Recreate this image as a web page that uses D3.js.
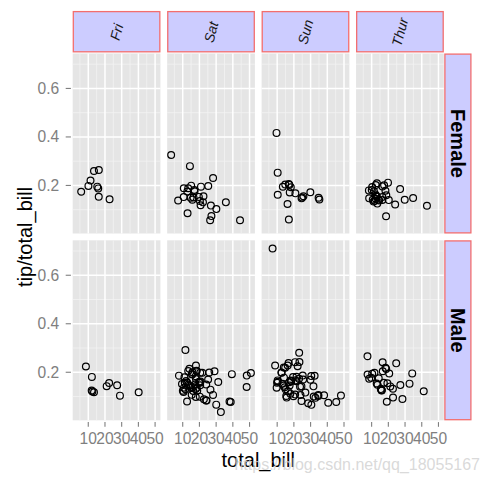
<!DOCTYPE html>
<html><head><meta charset="utf-8">
<script src="https://cdn.jsdelivr.net/npm/d3@7"></script>
<style>body{margin:0;background:#fff}svg{display:block}</style>
</head><body><svg id="c" width="491" height="484"></svg>
<script>
const days = ["Fri","Sat","Sun","Thur"];
const sexes = ["Female","Male"];
const xTicks = [10,20,30,40,50];
const yTicks = [0.2,0.4,0.6];
const xMinor = [5,15,25,35,45];
const yMinor = [0.1,0.3,0.5,0.7];

const totalBill = [
16.99,10.34,21.01,23.68,24.59,25.29,8.77,26.88,15.04,14.78,
10.27,35.26,15.42,18.43,14.83,21.58,10.33,16.29,16.97,20.65,
17.92,20.29,15.77,39.42,19.82,17.81,13.37,12.69,21.70,19.65,
9.55,18.35,15.06,20.69,17.78,24.06,16.31,16.93,18.69,31.27,
16.04,17.46,13.94,9.68,30.40,18.29,22.23,32.40,28.55,18.04,
12.54,10.29,34.81,9.94,25.56,19.49,38.01,26.41,11.24,48.27,
20.29,13.81,11.02,18.29,17.59,20.08,16.45,3.07,20.23,15.01,
12.02,17.07,26.86,25.28,14.73,10.51,17.92,27.20,22.76,17.29,
19.44,16.66,10.07,32.68,15.98,34.83,13.03,18.28,24.71,21.16,
28.97,22.49,5.75,16.32,22.75,40.17,27.28,12.03,21.01,12.46,
11.35,15.38,44.30,22.42,20.92,15.36,20.49,25.21,18.24,14.31,
14.00,7.25,38.07,23.95,25.71,17.31,29.93,10.65,12.43,24.08,
11.69,13.42,14.26,15.95,12.48,29.80,8.52,14.52,11.38,22.82,
19.08,20.27,11.17,12.26,18.26,8.51,10.33,14.15,16.00,13.16,
17.47,34.30,41.19,27.05,16.43,8.35,18.64,11.87,9.78,7.51,
14.07,13.13,17.26,24.55,19.77,29.85,48.17,25.00,13.39,16.49,
21.50,12.66,16.21,13.81,17.51,24.52,20.76,31.71,10.59,10.63,
50.81,15.81,7.25,31.85,16.82,32.90,17.89,14.48,9.60,34.63,
34.65,23.33,45.35,23.17,40.55,20.69,20.90,30.46,18.15,23.10,
15.69,19.81,28.44,15.48,16.58,7.56,10.34,43.11,13.00,13.51,
18.71,12.74,13.00,16.40,20.53,16.47,26.59,38.73,24.27,12.76,
30.06,25.89,48.33,13.27,28.17,12.90,28.15,11.59,7.74,30.14,
12.16,13.42,8.58,15.98,13.42,16.27,10.09,20.45,13.28,22.12,
24.01,15.69,11.61,10.77,15.53,10.07,12.60,32.83,35.83,29.03,
27.18,22.67,17.82,18.78];

const tip = [
1.01,1.66,3.50,3.31,3.61,4.71,2.00,3.12,1.96,3.23,
1.71,5.00,1.57,3.00,3.02,3.92,1.67,3.71,3.50,3.35,
4.08,2.75,2.23,7.58,3.18,2.34,2.00,2.00,4.30,3.00,
1.45,2.50,3.00,2.45,3.27,3.60,2.00,3.07,2.31,5.00,
2.24,2.54,3.06,1.32,5.60,3.00,5.00,6.00,2.05,3.00,
2.50,2.60,5.20,1.56,4.34,3.51,3.00,1.50,1.76,6.73,
3.21,2.00,1.98,3.76,2.64,3.15,2.47,1.00,2.01,2.09,
1.97,3.00,3.14,5.00,2.20,1.25,3.08,4.00,3.00,2.71,
3.00,3.40,1.83,5.00,2.03,5.17,2.00,4.00,5.85,3.00,
3.00,3.50,1.00,4.30,3.25,4.73,4.00,1.50,3.00,1.50,
2.50,3.00,2.50,3.48,4.08,1.64,4.06,4.29,3.76,4.00,
3.00,1.00,4.00,2.55,4.00,3.50,5.07,1.50,1.80,2.92,
2.31,1.68,2.50,2.00,2.52,4.20,1.48,2.00,2.00,2.18,
1.50,2.83,1.50,2.00,3.25,1.25,2.00,2.00,2.00,2.75,
3.50,6.70,5.00,5.00,2.30,1.50,1.36,1.63,1.73,2.00,
2.50,2.00,2.74,2.00,2.00,5.14,5.00,3.75,2.61,2.00,
3.50,2.50,2.00,2.00,3.00,3.48,2.24,4.50,1.61,2.00,
10.00,3.16,5.15,3.18,4.00,3.11,2.00,2.00,4.00,3.55,
3.68,5.65,3.50,6.50,3.00,5.00,3.50,2.00,3.50,4.00,
1.50,4.19,2.56,2.02,4.00,1.44,2.00,5.00,2.00,2.00,
4.00,2.01,2.00,2.50,4.00,3.23,3.41,3.00,2.03,2.23,
2.00,5.16,9.00,2.50,6.50,1.10,3.00,1.50,1.44,3.09,
2.20,3.48,1.92,3.00,1.58,2.50,2.00,3.00,2.72,2.88,
2.00,3.00,3.39,1.47,3.00,1.25,1.00,1.17,4.67,5.92,
2.00,2.00,1.75,3.00];

const sex = [
"F","M","M","M","F","M","M","M","M","M",
"M","F","M","M","F","M","F","M","F","M",
"M","F","F","M","M","M","M","M","M","F",
"M","M","F","F","M","M","M","F","M","M",
"M","M","M","M","M","M","M","M","M","M",
"M","F","F","M","M","M","M","F","M","M",
"M","M","M","M","M","M","F","F","M","M",
"M","F","F","F","F","M","M","M","M","M",
"M","M","F","M","M","F","M","M","M","M",
"M","M","F","F","F","M","M","M","M","M",
"F","F","F","F","F","M","M","M","M","F",
"M","F","M","M","F","F","M","F","F","F",
"M","F","M","M","F","F","M","F","F","M",
"M","F","F","F","F","F","F","F","M","F",
"F","M","M","F","F","F","F","F","M","M",
"M","M","M","M","M","F","M","F","F","M",
"M","M","F","M","F","M","M","M","F","F",
"M","M","M","M","M","M","M","M","F","M",
"M","M","M","M","M","M","F","M","F","M",
"M","F","M","M","M","M","M","F","F","M",
"M","F","F","F","M","F","M","M","M","F",
"M","M","M","F","F","F","M","M","M","F",
"M","F","M","F","M","F","F","M","M","F",
"M","M","M","M","M","M","M","M","F","M",
"F","M","M","F"];

const day = [
"Sun","Sun","Sun","Sun","Sun","Sun","Sun","Sun","Sun","Sun",
"Sun","Sun","Sun","Sun","Sun","Sun","Sun","Sun","Sun","Sat",
"Sat","Sat","Sat","Sat","Sat","Sat","Sat","Sat","Sat","Sat",
"Sat","Sat","Sat","Sat","Sat","Sat","Sat","Sat","Sat","Sat",
"Sat","Sun","Sun","Sun","Sun","Sun","Sun","Sun","Sun","Sun",
"Sun","Sun","Sun","Sun","Sun","Sun","Sat","Sat","Sat","Sat",
"Sat","Sat","Sat","Sat","Sat","Sat","Sat","Sat","Sat","Sat",
"Sat","Sat","Sat","Sat","Sat","Sat","Sat","Thur","Thur","Thur",
"Thur","Thur","Thur","Thur","Thur","Thur","Thur","Thur","Thur","Thur",
"Fri","Fri","Fri","Fri","Fri","Fri","Fri","Fri","Fri","Fri",
"Fri","Fri","Sat","Sat","Sat","Sat","Sat","Sat","Sat","Sat",
"Sat","Sat","Sun","Sun","Sun","Sun","Sun","Thur","Thur","Thur",
"Thur","Thur","Thur","Thur","Thur","Thur","Thur","Thur","Thur","Thur",
"Thur","Thur","Thur","Thur","Thur","Thur","Thur","Thur","Thur","Thur",
"Thur","Thur","Thur","Thur","Thur","Thur","Thur","Thur","Thur","Thur",
"Sun","Sun","Sun","Sun","Sun","Sun","Sun","Sun","Sun","Sun",
"Sun","Sun","Sun","Sun","Sun","Sun","Sun","Sun","Sat","Sat",
"Sat","Sat","Sun","Sun","Sun","Sun","Sun","Sun","Sun","Sun",
"Sun","Sun","Sun","Sun","Sun","Sun","Sun","Sun","Sun","Sun",
"Sun","Thur","Thur","Thur","Thur","Thur","Thur","Thur","Thur","Thur",
"Thur","Thur","Thur","Thur","Thur","Thur","Sat","Sat","Sat","Sat",
"Sat","Sat","Sat","Sat","Sat","Sat","Sat","Sat","Sat","Sat",
"Fri","Fri","Fri","Fri","Fri","Fri","Fri","Sat","Sat","Sat",
"Sat","Sat","Sat","Sat","Sat","Sat","Sat","Sat","Sat","Sat",
"Sat","Sat","Sat","Thur"];

const rows = totalBill.map((b,i)=>({bill:b, ratio:tip[i]/b, sex: sex[i]==="F"?"Female":"Male", day:day[i]}));

function expand(ext, f){const d=ext[1]-ext[0];return [ext[0]-d*f, ext[1]+d*f];}

const svg = d3.select("#c");
const font = "'Liberation Sans', Arial, Helvetica, sans-serif";
const L = 72.7, R = 443.8, T = 53.5, B = 420.3;
const colGap = 6.6, rowGap = 6.7;

const colBand = d3.scaleBand().domain(days).range([L, R]).paddingInner(colGap/((R-L)/4)).paddingOuter(0);
const rowBand = d3.scaleBand().domain(sexes).range([T, B]).paddingInner(rowGap/((B-T)/2)).paddingOuter(0);
const pw = colBand.bandwidth(), ph = rowBand.bandwidth();

const x = d3.scaleLinear().domain(expand(d3.extent(rows,d=>d.bill),0.05)).range([0,pw]);
const y = d3.scaleLinear().domain(expand(d3.extent(rows,d=>d.ratio),0.05)).range([ph,0]);

// strips top
days.forEach(dy=>{
  const g = svg.append("g").attr("transform",`translate(${colBand(dy)},0)`);
  g.append("rect").attr("x",0.6).attr("y",11.6).attr("width",pw-1.2).attr("height",41.4-1.2)
    .attr("fill","#CCCCFF").attr("stroke","#F36E6E").attr("stroke-width",1.3);
  g.append("text").attr("transform",`translate(${pw/2},32) rotate(-75)`)
    .attr("text-anchor","middle").attr("dominant-baseline","central")
    .attr("font-family",font).attr("font-style","italic").attr("font-size",14)
    .attr("fill","#1a1a1a").text(dy);
});
// strips right
sexes.forEach(sx=>{
  const g = svg.append("g").attr("transform",`translate(${R},${rowBand(sx)})`);
  g.append("rect").attr("x",1.1).attr("y",0.6).attr("width",27.2-1.2).attr("height",ph-1.2)
    .attr("fill","#CCCCFF").attr("stroke","#F36E6E").attr("stroke-width",1.3);
  g.append("text").attr("transform",`translate(${14},${ph/2}) rotate(90)`)
    .attr("text-anchor","middle").attr("dominant-baseline","central")
    .attr("font-family",font).attr("font-weight","bold").attr("font-size",20)
    .attr("fill","#000").text(sx);
});

// panels
sexes.forEach(sx=>{
  days.forEach(dy=>{
    const g = svg.append("g").attr("transform",`translate(${colBand(dy)},${rowBand(sx)})`);
    g.append("rect").attr("width",pw).attr("height",ph).attr("fill","#E5E5E5");
    g.selectAll(".mnx").data(xMinor.filter(v=>x(v)>=0&&x(v)<=pw)).enter().append("line")
      .attr("x1",d=>x(d)).attr("x2",d=>x(d)).attr("y1",0).attr("y2",ph).attr("stroke","#F2F2F2").attr("stroke-width",0.8);
    g.selectAll(".mny").data(yMinor.filter(v=>y(v)>=0&&y(v)<=ph)).enter().append("line")
      .attr("y1",d=>y(d)).attr("y2",d=>y(d)).attr("x1",0).attr("x2",pw).attr("stroke","#F2F2F2").attr("stroke-width",0.8);
    g.selectAll(".mjx").data(xTicks).enter().append("line")
      .attr("x1",d=>x(d)).attr("x2",d=>x(d)).attr("y1",0).attr("y2",ph).attr("stroke","#FFFFFF").attr("stroke-width",1.5);
    g.selectAll(".mjy").data(yTicks).enter().append("line")
      .attr("y1",d=>y(d)).attr("y2",d=>y(d)).attr("x1",0).attr("x2",pw).attr("stroke","#FFFFFF").attr("stroke-width",1.5);
    g.selectAll("circle").data(rows.filter(r=>r.sex===sx&&r.day===dy)).enter().append("circle")
      .attr("cx",d=>x(d.bill)).attr("cy",d=>y(d.ratio)).attr("r",3.4)
      .attr("fill","none").attr("stroke","#000").attr("stroke-width",1.2);
  });
});

// x axes
days.forEach(dy=>{
  const g = svg.append("g").attr("transform",`translate(${colBand(dy)},${B})`);
  g.selectAll("line").data(xTicks).enter().append("line")
    .attr("x1",d=>x(d)).attr("x2",d=>x(d)).attr("y1",1.8).attr("y2",6.5).attr("stroke","#7F7F7F").attr("stroke-width",1.1);
  g.selectAll("text").data(xTicks).enter().append("text")
    .attr("x",d=>x(d)).attr("y",24).attr("text-anchor","middle")
    .attr("font-family",font).attr("font-size",15.6).attr("fill","#7F7F7F").text(d=>d);
});
// y axes
sexes.forEach(sx=>{
  const g = svg.append("g").attr("transform",`translate(${L},${rowBand(sx)})`);
  g.selectAll("line").data(yTicks).enter().append("line")
    .attr("y1",d=>y(d)).attr("y2",d=>y(d)).attr("x1",-7).attr("x2",-1.8).attr("stroke","#7F7F7F").attr("stroke-width",1.1);
  g.selectAll("text").data(yTicks).enter().append("text")
    .attr("x",-13.5).attr("y",d=>y(d)).attr("text-anchor","end").attr("dominant-baseline","central")
    .attr("font-family",font).attr("font-size",15.6).attr("fill","#7F7F7F").text(d=>d.toFixed(1));
});

// axis titles
svg.append("text").attr("x",(L+R)/2).attr("y",467).attr("text-anchor","middle")
  .attr("font-family",font).attr("font-size",20).attr("fill","#000").text("total_bill");
svg.append("text").attr("transform",`translate(32,${(T+B)/2}) rotate(-90)`).attr("text-anchor","middle")
  .attr("font-family",font).attr("font-size",20).attr("fill","#000").text("tip/total_bill");

// watermark
svg.append("text").attr("x",480).attr("y",470).attr("text-anchor","end")
  .attr("font-family",font).attr("font-size",16).attr("fill","#d0d0d0").attr("fill-opacity",0.8)
  .text("https://blog.csdn.net/qq_18055167");
</script></body></html>
